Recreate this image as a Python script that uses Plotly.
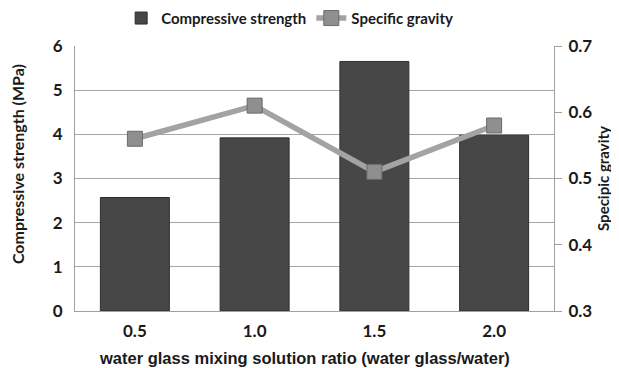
import plotly.graph_objects as go

categories = ["0.5", "1.0", "1.5", "2.0"]
compressive_strength = [2.57, 3.92, 5.65, 3.98]
specific_gravity = [0.56, 0.61, 0.51, 0.58]

body_font = "Lato, Open Sans, Liberation Sans, Arial"
xtitle_font = "Liberation Sans, Arial"

fig = go.Figure()
fig.add_trace(go.Bar(
    x=categories, y=compressive_strength, name="Compressive strength",
    marker=dict(color="#474747", line=dict(color="#2e2e2e", width=1)),
    yaxis="y",
))
fig.add_trace(go.Scatter(
    x=categories, y=specific_gravity, name="Specific gravity",
    mode="lines+markers",
    line=dict(color="#a3a3a3", width=5.5),
    marker=dict(symbol="square", size=15, color="#8f8f8f",
                line=dict(color="#6a6a6a", width=1)),
    yaxis="y2",
))

fig.update_layout(
    width=619, height=368,
    margin=dict(l=67, r=73, t=38, b=65, autoexpand=False),
    paper_bgcolor="white", plot_bgcolor="white",
    bargap=0.424,
    font=dict(family=body_font, color="#1a1a1a"),
    showlegend=True,
    legend=dict(orientation="h", xref="container", x=0.455, xanchor="center",
                yref="container", y=0.972, yanchor="middle",
                font=dict(size=15, family=body_font, weight="bold"),
                bgcolor="rgba(0,0,0,0)", itemwidth=30),
    xaxis=dict(
        tickfont=dict(size=17, weight="bold"),
        showline=True, linecolor="#a0a0a0", linewidth=1,
        ticks="", showgrid=False, automargin=False, ticklabelstandoff=5,
    ),
    yaxis=dict(
        range=[0, 6], dtick=1,
        tickfont=dict(size=17, weight="bold"),
        showgrid=True, gridcolor="#a6a6a6", gridwidth=1,
        showline=True, linecolor="#a0a0a0", linewidth=1,
        ticks="", ticklabelstandoff=8, zeroline=False, automargin=False,
    ),
    yaxis2=dict(
        range=[0.3, 0.7], dtick=0.1, tickformat=".1f",
        overlaying="y", side="right",
        tickfont=dict(size=17, weight="bold"),
        title=dict(text="Specipic gravity", font=dict(size=15, weight="bold"), standoff=7),
        showgrid=False,
        showline=True, linecolor="#a0a0a0", linewidth=1,
        ticks="outside", ticklen=7, tickcolor="#a0a0a0",
        ticklabelstandoff=3,
        zeroline=False, automargin=False,
    ),
    annotations=[
        dict(text="Compressive strength (MPa)", textangle=-90,
             xref="paper", x=(9 - 67) / 480, xanchor="center",
             yref="paper", y=(303 - 156) / 265, yanchor="middle",
             showarrow=False, font=dict(size=16, weight="bold", family=body_font)),
        dict(text="water glass mixing solution ratio (water glass/water)",
             xref="paper", x=(297 - 67) / 480, xanchor="center",
             yref="paper", y=(303 - 350) / 265, yanchor="middle",
             showarrow=False, font=dict(size=16.5, weight="bold", family=xtitle_font)),
    ],
)

fig.write_html("out.html")
